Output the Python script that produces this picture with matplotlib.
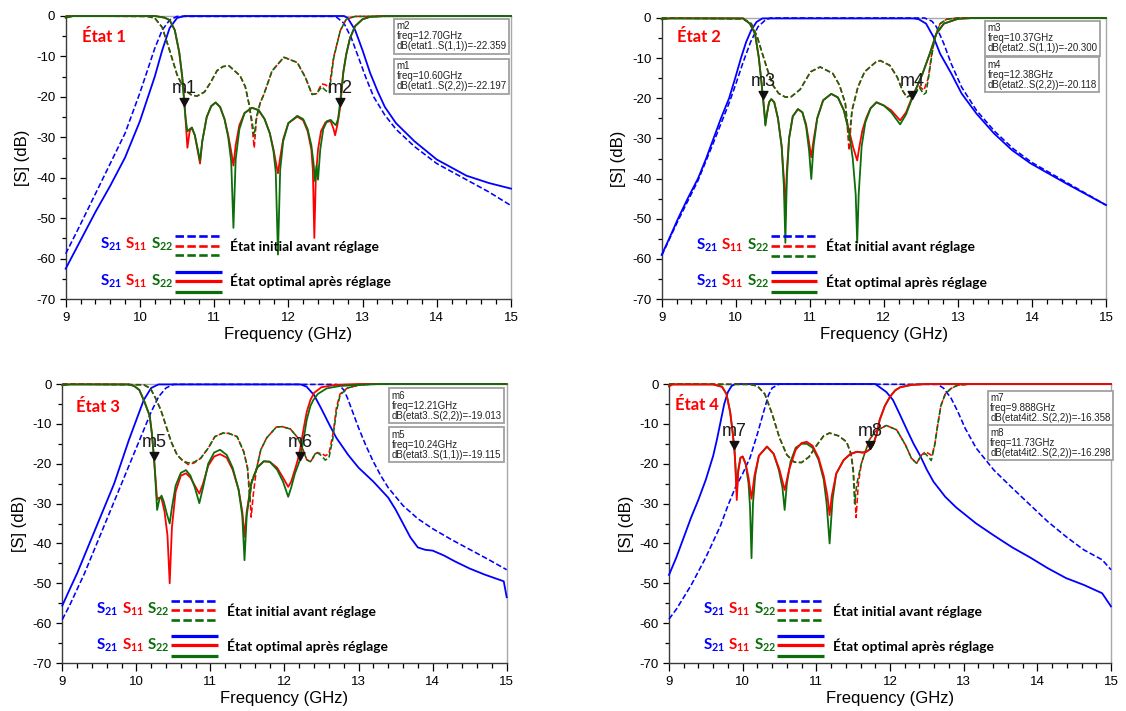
import matplotlib
matplotlib.use("Agg")
import matplotlib.pyplot as plt
from matplotlib.path import Path

plt.rcParams['font.family'] = ['Liberation Sans', 'DejaVu Sans']
plt.rcParams['axes.unicode_minus'] = False
plt.rcParams['mathtext.fontset'] = 'custom'
plt.rcParams['mathtext.bf'] = 'Lato:bold'
plt.rcParams['mathtext.rm'] = 'Lato'
plt.rcParams['mathtext.it'] = 'Lato:italic'

# ---------------- data (frequency GHz, level dB) ----------------
P1_S21_INIT = [(9.0,-58.8),(9.2,-51.5),(9.4,-44.0),(9.6,-36.5),(9.8,-29.0),(10.0,-19.0),(10.1,-13.5),(10.2,-8.0),(10.3,-3.5),(10.4,-1.0),(10.5,-0.1),(12.6,-0.1),(12.65,-0.3),(12.75,-1.8),(12.85,-5.5),(12.95,-10.5),(13.05,-15.5),(13.15,-20.0),(13.3,-24.5),(13.45,-28.0),(13.7,-32.3),(14.0,-36.5),(14.4,-40.5),(14.7,-43.5),(15.0,-46.9)]
P1_S21_OPT = [(9.0,-62.5),(9.2,-55.5),(9.4,-48.5),(9.6,-42.0),(9.8,-35.0),(10.0,-26.0),(10.1,-20.5),(10.2,-15.0),(10.3,-8.5),(10.4,-3.0),(10.5,-0.5),(10.6,0.0),(12.75,0.0),(12.8,-0.5),(12.9,-3.5),(13.0,-8.5),(13.1,-14.0),(13.2,-18.5),(13.3,-22.5),(13.45,-26.5),(13.7,-31.0),(14.0,-35.5),(14.4,-39.5),(14.7,-41.3),(15.0,-42.7)]
P1_S11_INIT = [(9.0,0.0),(10.1,-0.1),(10.2,-0.5),(10.3,-2.8),(10.4,-8.5),(10.5,-14.5),(10.6,-18.3),(10.7,-19.6),(10.77,-19.8),(10.87,-18.8),(10.95,-16.5),(11.04,-13.5),(11.12,-12.5),(11.2,-12.3),(11.35,-14.8),(11.42,-17.5),(11.47,-21.8),(11.51,-27.0),(11.54,-32.6),(11.57,-25.5),(11.62,-21.5),(11.67,-19.4),(11.78,-13.6),(11.94,-10.2),(12.12,-11.5),(12.23,-15.2),(12.32,-19.4),(12.38,-19.2),(12.45,-16.8),(12.5,-17.0),(12.55,-17.8),(12.61,-10.2),(12.7,-3.6),(12.78,-0.8),(12.9,-0.1),(15.0,0.0)]
P1_S22_INIT = [(9.0,0.0),(10.1,-0.1),(10.2,-0.5),(10.3,-2.8),(10.4,-8.5),(10.5,-14.5),(10.6,-18.3),(10.7,-19.6),(10.77,-19.8),(10.87,-18.8),(10.95,-16.5),(11.04,-13.5),(11.12,-12.5),(11.2,-12.3),(11.35,-14.8),(11.42,-17.5),(11.47,-21.8),(11.51,-26.0),(11.54,-29.7),(11.57,-25.0),(11.62,-21.5),(11.67,-19.4),(11.78,-13.6),(11.94,-10.2),(12.12,-11.5),(12.23,-15.2),(12.32,-19.4),(12.38,-19.2),(12.45,-17.5),(12.5,-18.4),(12.55,-19.0),(12.61,-10.5),(12.7,-3.6),(12.78,-0.8),(12.9,-0.1),(15.0,0.0)]
P1_S11_OPT = [(9.0,-0.4),(9.1,0.0),(10.2,0.0),(10.33,-0.4),(10.40,-1.0),(10.47,-3.5),(10.53,-9.0),(10.57,-15.0),(10.60,-21.5),(10.62,-27.0),(10.64,-32.6),(10.67,-28.5),(10.70,-27.6),(10.74,-29.5),(10.78,-33.5),(10.81,-36.5),(10.84,-31.0),(10.90,-25.0),(10.96,-22.3),(11.02,-21.4),(11.08,-22.5),(11.14,-25.5),(11.19,-29.5),(11.23,-33.5),(11.26,-37.0),(11.29,-32.0),(11.34,-27.0),(11.41,-24.0),(11.51,-22.7),(11.60,-23.3),(11.68,-25.5),(11.75,-29.0),(11.80,-33.0),(11.83,-36.0),(11.86,-38.9),(11.89,-35.0),(11.93,-30.5),(12.00,-26.5),(12.12,-24.9),(12.20,-25.8),(12.26,-28.5),(12.31,-33.0),(12.33,-38.0),(12.35,-54.9),(12.37,-40.0),(12.40,-33.0),(12.44,-28.5),(12.50,-26.3),(12.57,-26.0),(12.61,-28.0),(12.63,-29.5),(12.66,-27.0),(12.70,-22.4),(12.74,-14.0),(12.78,-9.5),(12.83,-5.5),(12.90,-2.5),(13.0,-0.8),(13.1,-0.2),(13.3,0.0),(15.0,0.0)]
P1_S22_OPT = [(9.0,-0.4),(9.1,0.0),(10.2,0.0),(10.33,-0.4),(10.40,-1.0),(10.47,-3.5),(10.53,-9.0),(10.57,-15.0),(10.60,-22.2),(10.62,-26.0),(10.64,-28.5),(10.67,-28.0),(10.70,-27.6),(10.74,-29.5),(10.78,-33.0),(10.81,-35.8),(10.84,-31.0),(10.90,-25.0),(10.96,-22.3),(11.02,-21.4),(11.08,-22.5),(11.14,-25.5),(11.19,-30.0),(11.23,-36.0),(11.26,-52.4),(11.29,-35.5),(11.34,-28.0),(11.41,-24.0),(11.51,-22.7),(11.60,-23.3),(11.68,-25.5),(11.75,-29.0),(11.80,-33.5),(11.83,-38.5),(11.86,-59.0),(11.89,-38.0),(11.93,-31.0),(12.00,-26.5),(12.12,-24.7),(12.20,-25.5),(12.26,-28.0),(12.31,-32.0),(12.34,-36.5),(12.36,-40.9),(12.38,-37.0),(12.40,-40.5),(12.43,-33.0),(12.47,-28.0),(12.52,-26.0),(12.57,-25.7),(12.61,-26.5),(12.64,-27.0),(12.67,-25.5),(12.70,-21.0),(12.74,-14.0),(12.78,-9.5),(12.83,-5.5),(12.90,-2.5),(13.0,-0.8),(13.1,-0.2),(13.3,0.0),(15.0,0.0)]

P2_S21_INIT = [(9.0,-59.2),(9.22,-50.5),(9.49,-40.5),(9.7,-31.0),(9.91,-21.2),(10.0,-16.5),(10.1,-11.0),(10.2,-6.0),(10.3,-2.2),(10.4,-0.5),(10.47,0.0),(12.55,0.0),(12.65,-0.8),(12.71,-2.2),(12.81,-6.4),(12.91,-11.4),(13.05,-17.2),(13.25,-23.0),(13.5,-28.3),(13.75,-32.6),(14.0,-36.0),(14.5,-41.3),(15.0,-46.6)]
P2_S21_OPT = [(9.0,-59.0),(9.1,-55.0),(9.22,-50.0),(9.35,-45.0),(9.49,-40.0),(9.6,-35.0),(9.7,-30.0),(9.8,-25.0),(9.91,-20.0),(10.0,-14.5),(10.07,-10.0),(10.14,-6.0),(10.21,-3.0),(10.28,-1.0),(10.36,-0.1),(12.4,-0.1),(12.47,-0.3),(12.57,-1.4),(12.67,-4.7),(12.76,-8.9),(12.91,-13.8),(13.05,-18.8),(13.25,-23.8),(13.49,-28.8),(13.73,-32.9),(13.98,-36.2),(14.46,-41.2),(15.0,-46.6)]
P2_S11_INIT = [(9.0,0.0),(10.1,-0.2),(10.21,-1.4),(10.29,-4.7),(10.36,-8.9),(10.43,-13.0),(10.5,-16.7),(10.58,-18.8),(10.67,-19.7),(10.75,-19.6),(10.87,-17.8),(11.01,-13.4),(11.14,-12.2),(11.31,-13.8),(11.4,-16.7),(11.48,-21.3),(11.51,-28.0),(11.53,-33.0),(11.57,-23.0),(11.65,-17.2),(11.74,-13.4),(11.89,-11.0),(11.95,-10.6),(12.08,-11.8),(12.18,-14.7),(12.25,-18.0),(12.31,-19.7),(12.42,-18.8),(12.48,-17.0),(12.54,-18.0),(12.6,-15.0),(12.64,-9.7),(12.69,-4.7),(12.76,-1.4),(12.85,-0.3),(13.0,0.0),(15.0,0.0)]
P2_S22_INIT = [(9.0,0.0),(10.1,-0.2),(10.21,-1.4),(10.29,-4.7),(10.36,-8.9),(10.43,-13.0),(10.5,-16.7),(10.58,-18.8),(10.67,-19.7),(10.75,-19.6),(10.87,-17.8),(11.01,-13.4),(11.14,-12.2),(11.31,-13.8),(11.4,-16.7),(11.48,-21.3),(11.51,-26.5),(11.53,-30.0),(11.57,-23.0),(11.65,-17.2),(11.74,-13.4),(11.89,-11.0),(11.95,-10.6),(12.08,-11.8),(12.18,-14.7),(12.25,-18.0),(12.31,-19.7),(12.42,-18.8),(12.48,-17.3),(12.54,-19.0),(12.57,-18.6),(12.61,-14.0),(12.65,-9.0),(12.69,-4.7),(12.76,-1.4),(12.85,-0.3),(13.0,0.0),(15.0,0.0)]
P2_S11_OPT = [(9.0,-0.3),(9.1,-0.1),(10.1,-0.1),(10.19,-1.4),(10.26,-3.9),(10.31,-9.7),(10.34,-14.7),(10.37,-20.3),(10.39,-24.0),(10.40,-26.5),(10.42,-24.0),(10.45,-21.0),(10.48,-20.2),(10.52,-21.0),(10.57,-25.0),(10.62,-32.0),(10.65,-40.0),(10.67,-48.0),(10.69,-38.0),(10.72,-30.0),(10.77,-24.5),(10.84,-22.7),(10.90,-23.5),(10.95,-26.5),(10.99,-31.0),(11.02,-34.7),(11.05,-30.5),(11.10,-25.0),(11.18,-20.5),(11.29,-18.9),(11.38,-19.8),(11.46,-23.0),(11.53,-28.0),(11.59,-32.5),(11.64,-35.5),(11.67,-32.0),(11.71,-28.0),(11.76,-25.0),(11.82,-22.5),(11.90,-21.0),(12.00,-21.8),(12.10,-23.0),(12.22,-25.5),(12.30,-23.5),(12.38,-19.8),(12.45,-17.0),(12.52,-14.0),(12.62,-8.9),(12.71,-3.9),(12.81,-1.4),(13.0,-0.2),(13.2,0.0),(15.0,0.0)]
P2_S22_OPT = [(9.0,-0.3),(9.1,-0.1),(10.1,-0.1),(10.19,-1.4),(10.26,-3.9),(10.31,-9.7),(10.34,-14.7),(10.37,-20.3),(10.39,-24.5),(10.40,-26.8),(10.42,-24.0),(10.45,-21.0),(10.48,-20.2),(10.52,-21.0),(10.57,-25.0),(10.62,-32.0),(10.65,-42.0),(10.67,-56.0),(10.69,-40.0),(10.72,-30.0),(10.77,-24.5),(10.84,-22.7),(10.90,-23.5),(10.95,-27.0),(10.99,-33.0),(11.02,-40.1),(11.05,-32.0),(11.10,-25.0),(11.18,-20.5),(11.29,-18.9),(11.38,-19.8),(11.46,-23.0),(11.53,-28.5),(11.58,-35.0),(11.62,-44.0),(11.64,-56.0),(11.66,-44.0),(11.70,-32.0),(11.75,-26.0),(11.82,-22.5),(11.90,-21.0),(12.00,-21.8),(12.10,-23.5),(12.22,-26.5),(12.30,-24.0),(12.38,-20.1),(12.45,-17.0),(12.52,-14.0),(12.62,-8.9),(12.71,-3.9),(12.81,-1.4),(13.0,-0.2),(13.2,0.0),(15.0,0.0)]

P3_S21_INIT = [(9.0,-59.1),(9.1,-55.5),(9.2,-51.5),(9.3,-47.5),(9.4,-43.0),(9.5,-38.5),(9.6,-34.0),(9.7,-29.5),(9.8,-25.0),(9.9,-20.5),(10.0,-16.0),(10.1,-11.5),(10.2,-7.0),(10.3,-3.2),(10.4,-1.0),(10.5,-0.1),(12.7,-0.1),(12.75,-0.5),(12.8,-1.5),(12.85,-3.5),(12.9,-6.0),(13.0,-11.0),(13.1,-15.5),(13.2,-19.5),(13.3,-23.0),(13.4,-26.0),(13.6,-30.5),(13.8,-33.8),(14.0,-36.3),(14.25,-39.0),(14.5,-41.5),(14.75,-44.0),(15.0,-46.6)]
P3_S21_OPT = [(9.0,-55.6),(9.1,-51.5),(9.2,-47.5),(9.3,-43.0),(9.4,-38.5),(9.5,-34.0),(9.6,-29.5),(9.7,-25.0),(9.8,-19.5),(9.9,-14.0),(10.0,-9.0),(10.1,-4.0),(10.2,-1.0),(10.3,-0.1),(12.22,-0.1),(12.3,-0.7),(12.4,-2.8),(12.5,-6.3),(12.6,-10.0),(12.7,-13.5),(12.86,-17.8),(13.0,-21.0),(13.2,-24.5),(13.4,-28.5),(13.5,-31.5),(13.6,-35.0),(13.7,-38.5),(13.8,-41.0),(13.9,-41.6),(14.0,-41.8),(14.15,-43.0),(14.3,-44.5),(14.5,-46.3),(14.7,-47.8),(14.96,-49.5),(15.0,-53.5)]
P3_S11_INIT = [(9.0,0.0),(10.1,-0.2),(10.19,-1.1),(10.26,-3.6),(10.33,-6.5),(10.4,-10.5),(10.47,-14.5),(10.55,-17.8),(10.63,-19.3),(10.70,-20.2),(10.78,-19.8),(10.87,-18.6),(10.97,-16.1),(11.06,-13.2),(11.17,-12.3),(11.25,-12.4),(11.36,-13.2),(11.45,-17.0),(11.50,-21.0),(11.53,-27.0),(11.55,-33.4),(11.58,-27.5),(11.62,-21.5),(11.68,-16.5),(11.76,-13.5),(11.89,-10.8),(11.97,-10.7),(12.08,-11.3),(12.18,-13.5),(12.25,-16.5),(12.30,-19.0),(12.35,-19.5),(12.43,-17.3),(12.50,-17.4),(12.55,-18.0),(12.60,-17.5),(12.66,-12.0),(12.70,-6.0),(12.75,-2.5),(12.85,-1.0),(13.0,-0.3),(13.2,0.0),(15.0,0.0)]
P3_S22_INIT = [(9.0,0.0),(10.1,-0.2),(10.19,-1.1),(10.26,-3.6),(10.33,-6.5),(10.4,-10.5),(10.47,-14.5),(10.55,-17.8),(10.63,-19.3),(10.70,-19.8),(10.78,-19.6),(10.87,-18.6),(10.97,-16.1),(11.06,-13.2),(11.17,-12.3),(11.25,-12.4),(11.36,-13.2),(11.45,-17.0),(11.50,-21.0),(11.53,-29.0),(11.56,-24.0),(11.62,-21.5),(11.68,-16.5),(11.76,-13.5),(11.89,-10.8),(11.97,-10.7),(12.08,-11.3),(12.18,-13.5),(12.25,-16.5),(12.30,-19.0),(12.35,-19.5),(12.43,-17.0),(12.50,-18.0),(12.55,-19.1),(12.60,-18.5),(12.65,-14.0),(12.70,-7.0),(12.75,-2.8),(12.85,-1.0),(13.0,-0.3),(13.2,0.0),(15.0,0.0)]
P3_S11_OPT = [(9.0,-0.3),(9.1,-0.1),(9.9,-0.1),(9.97,-0.5),(10.04,-1.5),(10.11,-4.5),(10.18,-8.0),(10.21,-12.5),(10.24,-19.1),(10.26,-24.0),(10.28,-29.0),(10.31,-28.5),(10.34,-28.7),(10.38,-32.0),(10.42,-38.0),(10.45,-50.0),(10.48,-36.0),(10.53,-27.0),(10.60,-23.0),(10.67,-22.4),(10.73,-23.5),(10.79,-25.5),(10.85,-27.5),(10.90,-25.0),(10.97,-20.5),(11.05,-18.2),(11.13,-17.6),(11.22,-18.5),(11.30,-21.5),(11.38,-26.5),(11.43,-32.0),(11.46,-38.3),(11.49,-32.0),(11.55,-25.0),(11.63,-21.0),(11.72,-19.4),(11.80,-19.5),(11.90,-21.0),(11.98,-23.5),(12.05,-25.8),(12.09,-24.5),(12.14,-21.5),(12.18,-19.0),(12.21,-16.5),(12.26,-11.0),(12.30,-7.0),(12.35,-4.0),(12.40,-2.2),(12.50,-0.8),(12.7,-0.2),(13.0,0.0),(15.0,0.0)]
P3_S22_OPT = [(9.0,-0.3),(9.1,-0.1),(9.9,-0.1),(9.97,-0.5),(10.04,-1.5),(10.11,-4.5),(10.18,-8.0),(10.21,-12.5),(10.24,-19.0),(10.26,-25.0),(10.28,-31.6),(10.31,-29.0),(10.34,-28.0),(10.37,-29.5),(10.41,-32.5),(10.45,-35.0),(10.48,-31.0),(10.53,-25.5),(10.60,-22.3),(10.67,-21.6),(10.73,-23.0),(10.79,-26.0),(10.85,-29.9),(10.90,-26.0),(10.97,-20.0),(11.05,-17.2),(11.13,-16.5),(11.22,-17.8),(11.30,-21.0),(11.38,-26.5),(11.43,-33.0),(11.46,-44.2),(11.49,-33.0),(11.55,-25.0),(11.63,-21.0),(11.72,-19.4),(11.80,-19.5),(11.90,-21.5),(11.98,-24.5),(12.05,-28.3),(12.09,-26.0),(12.14,-22.5),(12.18,-20.5),(12.21,-19.0),(12.26,-13.6),(12.30,-9.0),(12.35,-5.5),(12.39,-4.0),(12.45,-2.5),(12.57,-1.1),(12.75,-0.5),(13.0,-0.2),(13.3,0.0),(15.0,0.0)]

P4_S21_INIT = [(9.0,-59.0),(9.1,-56.5),(9.2,-53.5),(9.3,-50.5),(9.4,-47.0),(9.5,-43.5),(9.6,-39.5),(9.7,-35.5),(9.8,-30.5),(9.9,-26.0),(10.0,-22.5),(10.1,-18.5),(10.2,-12.5),(10.3,-6.0),(10.35,-2.8),(10.4,-1.0),(10.5,0.0),(12.65,-0.1),(12.73,-1.1),(12.83,-3.6),(12.92,-6.9),(13.02,-11.1),(13.17,-16.1),(13.41,-21.6),(13.66,-26.1),(13.9,-30.3),(14.14,-34.5),(14.39,-38.3),(14.63,-41.6),(14.88,-44.1),(15.0,-46.6)]
P4_S21_OPT = [(9.0,-47.9),(9.1,-43.5),(9.2,-38.5),(9.3,-33.5),(9.4,-29.0),(9.5,-24.0),(9.6,-18.0),(9.65,-14.0),(9.7,-9.5),(9.75,-5.0),(9.8,-2.0),(9.85,-0.5),(9.9,0.0),(11.8,0.0),(11.86,-0.8),(11.95,-2.0),(12.04,-4.0),(12.13,-7.5),(12.23,-11.5),(12.32,-15.0),(12.41,-18.0),(12.5,-21.5),(12.59,-24.5),(12.75,-28.3),(12.9,-31.0),(13.17,-35.0),(13.41,-38.0),(13.66,-41.0),(13.9,-43.5),(14.14,-46.2),(14.39,-48.7),(14.63,-50.4),(14.88,-52.5),(15.0,-55.8)]
P4_S11_INIT = [(9.0,0.0),(10.1,-0.1),(10.2,-0.5),(10.3,-2.5),(10.4,-7.5),(10.5,-13.5),(10.6,-17.8),(10.7,-19.6),(10.8,-19.7),(10.9,-18.3),(11.0,-15.5),(11.1,-13.0),(11.18,-12.3),(11.3,-13.0),(11.41,-14.5),(11.47,-17.5),(11.50,-21.0),(11.52,-27.0),(11.54,-33.5),(11.57,-25.0),(11.61,-20.0),(11.65,-17.8),(11.72,-14.0),(11.8,-11.9),(11.95,-10.4),(12.09,-11.5),(12.21,-15.3),(12.29,-18.6),(12.36,-19.9),(12.43,-17.8),(12.48,-17.0),(12.53,-17.5),(12.57,-18.0),(12.61,-15.0),(12.65,-10.0),(12.69,-5.5),(12.75,-2.5),(12.83,-1.1),(12.92,-0.3),(13.1,0.0),(15.0,0.0)]
P4_S22_INIT = [(9.0,0.0),(10.1,-0.1),(10.2,-0.5),(10.3,-2.5),(10.4,-7.5),(10.5,-13.5),(10.6,-17.8),(10.7,-19.6),(10.8,-19.7),(10.9,-18.3),(11.0,-15.5),(11.1,-13.0),(11.18,-12.3),(11.3,-13.0),(11.41,-14.5),(11.47,-17.5),(11.50,-22.0),(11.52,-30.0),(11.55,-25.0),(11.61,-20.0),(11.65,-17.8),(11.72,-14.0),(11.8,-11.9),(11.95,-10.4),(12.09,-11.5),(12.21,-15.3),(12.29,-18.6),(12.36,-19.9),(12.43,-17.8),(12.48,-17.5),(12.53,-18.5),(12.56,-19.2),(12.60,-16.0),(12.65,-10.0),(12.69,-5.5),(12.75,-2.5),(12.83,-1.1),(12.92,-0.3),(13.1,0.0),(15.0,0.0)]
P4_S11_OPT = [(9.0,-0.6),(9.05,-0.1),(9.6,-0.1),(9.72,-0.7),(9.78,-2.5),(9.83,-7.0),(9.86,-11.5),(9.888,-16.4),(9.90,-20.0),(9.92,-29.1),(9.94,-22.0),(9.97,-18.5),(10.0,-18.2),(10.04,-20.0),(10.08,-23.5),(10.12,-28.8),(10.16,-23.0),(10.22,-18.0),(10.33,-15.7),(10.42,-17.5),(10.5,-21.5),(10.57,-26.6),(10.63,-21.5),(10.72,-16.5),(10.8,-14.8),(10.87,-14.5),(10.95,-15.5),(11.03,-18.5),(11.1,-23.0),(11.15,-28.0),(11.18,-32.9),(11.21,-28.0),(11.27,-22.5),(11.37,-19.1),(11.46,-17.6),(11.55,-17.0),(11.63,-17.2),(11.68,-17.0),(11.73,-16.3),(11.77,-15.3),(11.82,-12.5),(11.86,-9.0),(11.93,-5.5),(12.0,-3.2),(12.07,-1.6),(12.14,-0.8),(12.3,-0.2),(12.5,0.0),(15.0,0.0)]
P4_S22_OPT = [(9.0,-0.3),(9.05,-0.1),(9.6,-0.1),(9.72,-0.7),(9.78,-2.5),(9.83,-7.0),(9.86,-11.5),(9.888,-16.358),(9.90,-20.0),(9.92,-27.0),(9.94,-21.5),(9.97,-18.5),(10.0,-18.2),(10.04,-20.0),(10.08,-25.0),(10.10,-31.0),(10.12,-43.7),(10.14,-30.0),(10.17,-23.0),(10.22,-18.0),(10.33,-15.7),(10.42,-17.5),(10.49,-21.5),(10.54,-26.0),(10.57,-31.6),(10.60,-25.0),(10.65,-19.5),(10.72,-16.0),(10.8,-15.0),(10.87,-15.0),(10.95,-16.0),(11.03,-19.0),(11.1,-24.0),(11.14,-30.0),(11.18,-40.0),(11.22,-29.0),(11.27,-22.5),(11.37,-19.1),(11.46,-17.6),(11.55,-17.0),(11.63,-17.2),(11.68,-17.0),(11.73,-16.298),(11.77,-15.3),(11.82,-12.5),(11.86,-9.0),(11.93,-5.5),(12.0,-3.2),(12.07,-1.6),(12.14,-0.8),(12.3,-0.2),(12.5,0.0),(15.0,0.0)]

TITLES = ["État 1", "État 2", "État 3", "État 4"]
MARKERS = [
    [("m1", 10.60, -22.197), ("m2", 12.70, -22.359)],
    [("m3", 10.37, -20.300), ("m4", 12.38, -20.118)],
    [("m5", 10.24, -19.115), ("m6", 12.21, -19.013)],
    [("m7", 9.888, -16.358), ("m8", 11.73, -16.298)],
]
BOX_TEXTS = [
    ["m2\nfreq=12.70GHz\ndB(etat1..S(1,1))=-22.359", "m1\nfreq=10.60GHz\ndB(etat1..S(2,2))=-22.197"],
    ["m3\nfreq=10.37GHz\ndB(etat2..S(1,1))=-20.300", "m4\nfreq=12.38GHz\ndB(etat2..S(2,2))=-20.118"],
    ["m6\nfreq=12.21GHz\ndB(etat3..S(2,2))=-19.013", "m5\nfreq=10.24GHz\ndB(etat3..S(1,1))=-19.115"],
    ["m7\nfreq=9.888GHz\ndB(etat4it2..S(2,2))=-16.358", "m8\nfreq=11.73GHz\ndB(etat4it2..S(2,2))=-16.298"],
]
LEGEND_TEXTS = ["État initial avant réglage", "État optimal après réglage"]
S_LABELS = [r"$\mathbf{S_{21}}$", r"$\mathbf{S_{11}}$", r"$\mathbf{S_{22}}$"]
X_TICKS = [9, 10, 11, 12, 13, 14, 15]
Y_TICKS = [-70, -60, -50, -40, -30, -20, -10, 0]

PANEL_CURVES = [
    (P1_S21_INIT, P1_S21_OPT, P1_S11_INIT, P1_S22_INIT, P1_S11_OPT, P1_S22_OPT),
    (P2_S21_INIT, P2_S21_OPT, P2_S11_INIT, P2_S22_INIT, P2_S11_OPT, P2_S22_OPT),
    (P3_S21_INIT, P3_S21_OPT, P3_S11_INIT, P3_S22_INIT, P3_S11_OPT, P3_S22_OPT),
    (P4_S21_INIT, P4_S21_OPT, P4_S11_INIT, P4_S22_INIT, P4_S11_OPT, P4_S22_OPT),
]

# ---------------- layout / style ----------------
BLUE = '#0000ff'
RED = '#ff0000'
GREEN = '#0b6e0b'
W, H = 1126, 711
AX_PIX = [(65.7, 16, 511, 299), (661.7, 18, 1106, 299), (62.3, 384, 506.7, 663), (669, 384, 1111, 663)]
TITLE_POS = [(9.22, -6.4), (9.21, -6.0), (9.19, -6.9), (9.08, -6.5)]
BOX_POS = [((13.46, -1.3), (13.46, -11.2)), ((13.40, -1.3), (13.40, -10.4)),
           ((13.45, -1.7), (13.45, -11.5)), ((13.36, -2.3), (13.36, -11.0))]

tri = Path([(0, 0), (-0.55, 1.0), (0.55, 1.0), (0, 0)],
           [Path.MOVETO, Path.LINETO, Path.LINETO, Path.CLOSEPOLY])

fig = plt.figure(figsize=(W / 100, H / 100), dpi=100)

for i in range(4):
    x0, y0, x1, y1 = AX_PIX[i]
    ax = fig.add_axes([x0 / W, 1 - y1 / H, (x1 - x0) / W, (y1 - y0) / H])
    ax.set_xlim(9, 15)
    ax.set_ylim(-70, 0)
    s21i, s21o, s11i, s22i, s11o, s22o = PANEL_CURVES[i]
    dash = (0, (3.5, 1.6))
    order = [(s21i, BLUE, dash), (s21o, BLUE, '-'), (s11i, RED, dash), (s22i, GREEN, dash)]
    if i == 3:
        order += [(s22o, GREEN, '-'), (s11o, RED, '-')]
    else:
        order += [(s11o, RED, '-'), (s22o, GREEN, '-')]
    for data, col, ls in order:
        fx = [p[0] for p in data]
        dy = [p[1] for p in data]
        ax.plot(fx, dy, color=col, ls=ls, lw=1.3 if ls == '-' else 1.15, clip_on=False, zorder=3)

    # title
    ax.text(TITLE_POS[i][0], TITLE_POS[i][1], TITLES[i], color=RED, fontsize=12,
            fontweight='bold', family=['Lato', 'DejaVu Sans'], va='baseline', zorder=5)

    # markers
    for name, f, v in MARKERS[i]:
        ax.plot([f], [v], marker=tri, ms=11.5, color='#111111', ls='none', zorder=6)
        ax.annotate(name, xy=(f, v), xytext=(0, 9.5), textcoords='offset points',
                    ha='center', va='baseline', fontsize=13, color='#1a1a1a', zorder=6)

    # marker boxes
    for (bx, by), txt in zip(BOX_POS[i], BOX_TEXTS[i]):
        ax.text(bx, by, txt, fontsize=7, va='top', ha='left', linespacing=1.0, color='#222222',
                zorder=7, bbox=dict(boxstyle='square,pad=0.25', fc='white', ec='#a0a0a0', lw=1.3))

    # legend block
    for row, (yc, yl, txt) in enumerate([(-56.5, (-54.4, -56.8, -59.2), LEGEND_TEXTS[0]),
                                         (-65.5, (-63.2, -65.6, -68.2), LEGEND_TEXTS[1])]):
        for lbl, xl, col in zip(S_LABELS, (9.46, 9.80, 10.15), (BLUE, RED, GREEN)):
            ax.text(xl, yc, lbl, color=col, fontsize=11, va='center', ha='left', zorder=5)
        for yy, col in zip(yl, (BLUE, RED, GREEN)):
            if row == 0:
                ax.plot([10.47, 11.10], [yy, yy], color=col, lw=1.9, ls=(0, (3.2, 1.3)), zorder=5)
            else:
                ax.plot([10.47, 11.10], [yy, yy], color=col, lw=2.3, ls='-', solid_capstyle='butt', zorder=5)
        ax.text(11.22, yl[1], txt, fontsize=10, fontweight='bold', family=['Lato', 'DejaVu Sans'],
                va='center', ha='left', color='black', zorder=5)

    # axes styling
    ax.set_xticks(X_TICKS)
    ax.set_xticks([9 + 0.2 * k for k in range(31)], minor=True)
    ax.set_yticks(Y_TICKS)
    ax.set_yticks(list(range(-65, 0, 10)), minor=True)
    ax.set_yticklabels([str(t) for t in Y_TICKS])
    ax.tick_params(axis='x', which='major', length=5.5, width=0.9, pad=4, labelsize=9.5, direction='out')
    ax.tick_params(axis='x', which='minor', length=3.5, width=0.9, direction='out')
    ax.tick_params(axis='y', which='major', length=4, width=0.9, pad=3.5, labelsize=9.5, direction='out')
    ax.tick_params(axis='y', which='minor', length=3, width=0.9, direction='out')
    for s in ('left', 'bottom'):
        ax.spines[s].set_color('#3a3a3a')
        ax.spines[s].set_linewidth(1.0)
    for s in ('top', 'right'):
        ax.spines[s].set_color('#a8a8a8')
        ax.spines[s].set_linewidth(1.0)
    ax.set_xlabel("Frequency (GHz)", fontsize=12, labelpad=2)
    ax.set_ylabel("[S] (dB)", fontsize=12, labelpad=4)

fig.savefig("out.png", dpi=100)
